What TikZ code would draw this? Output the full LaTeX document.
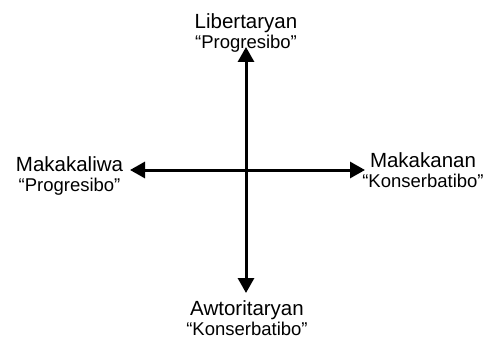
\documentclass[tikz,border=0pt]{standalone}
\usepackage{fontspec}
\setmainfont{Liberation Sans}
\usetikzlibrary{arrows.meta,positioning}

\begin{document}
\begin{tikzpicture}[x=1pt, y=-1pt,
    pole/.style={inner sep=0pt, anchor=north, align=center, font=\fontsize{18.5}{20}\selectfont},
    axis/.style={{Triangle[length=15pt, width=16pt]}-{Triangle[length=15pt, width=16pt]}, line width=3pt}
]
\useasboundingbox (0,0) rectangle (486,339);

% Arrow ends
\coordinate (top) at (246, 47);
\coordinate (bottom) at (246, 293);
\coordinate (left) at (130, 170);
\coordinate (right) at (365, 170);

% Axes
\draw[axis] (bottom) -- (top);
\draw[axis] (left) -- (right);

% Labels
\node[pole] (lib) at (246, 13) {{\fontsize{20.5}{20}\selectfont Libertaryan}\\“Progresibo”};
\node[pole] (kal) at (69.5, 156) {{\fontsize{20.5}{20}\selectfont Makakaliwa}\\“Progresibo”};
\node[pole] (kan) at (423, 152) {{\fontsize{20.5}{20}\selectfont Makakanan}\\“Konserbatibo”};
\node[pole] (awt) at (247, 300) {{\fontsize{20.5}{20}\selectfont Awtoritaryan}\\“Konserbatibo”};

\end{tikzpicture}
\end{document}
